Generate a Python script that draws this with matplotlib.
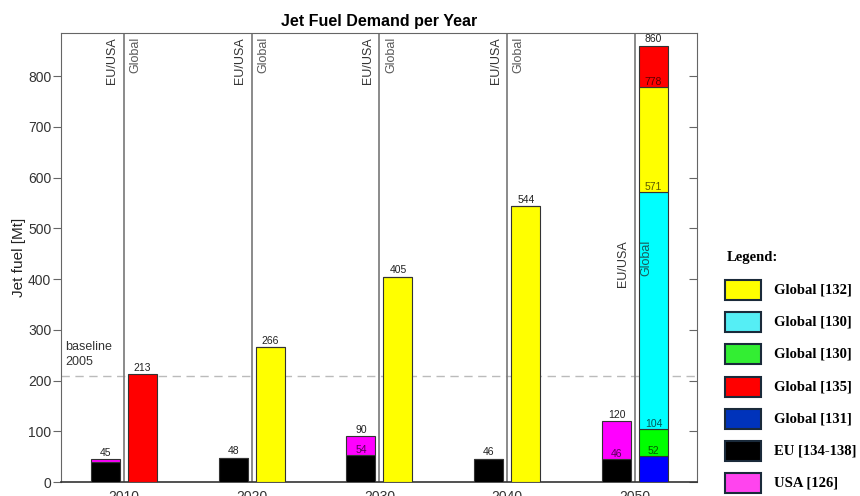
import matplotlib
matplotlib.use("Agg")
import matplotlib.pyplot as plt
from matplotlib.patches import Rectangle
import numpy as np

years = ["2010", "2020", "2030", "2040", "2050"]

# EU/USA bar: EU part (black) + USA part (magenta) on top
eu = [39, 48, 54, 46, 46]
usa = [6, 0, 36, 0, 74]
eu_label_shown = [False, False, True, False, True]

# Global bar, stacked bottom to top
glob_blue = [0, 0, 0, 0, 52]      # Global [131]
glob_green = [0, 0, 0, 0, 52]     # Global [130]
glob_cyan = [0, 0, 0, 0, 467]     # Global [130]
glob_yellow = [0, 266, 405, 544, 207]  # Global [132]
glob_red = [213, 0, 0, 0, 82]     # Global [135]

baseline_2005 = 208

legend_labels = ["Global [132]", "Global [130]", "Global [130]", "Global [135]",
                 "Global [131]", "EU [134-138]", "USA [126]"]
legend_colors = ["#ffff00", "#55eef5", "#33ee33", "#ff0000", "#0033bb", "#000000", "#ff44ee"]

plt.rcParams["font.family"] = ["Liberation Sans", "DejaVu Sans"]

fig = plt.figure(figsize=(8.6, 4.96), dpi=100)
ax = fig.add_axes([0.0709, 0.0282, 0.7395, 0.9052])

x = np.arange(len(years))
w = 0.227
off = 0.145
edge = dict(edgecolor="#333333", linewidth=0.8)
lbl = dict(textcoords="offset points", ha="center", va="bottom", fontsize=7.5, zorder=6)

# EU/USA bars
eu_arr = np.array(eu)
usa_arr = np.array(usa)
ax.bar(x - off, eu_arr, w, color="black", zorder=3, **edge)
ax.bar(x - off, usa_arr, w, bottom=eu_arr, color="#ff00ff", zorder=3, **edge)
for i in range(len(years)):
    top = eu[i] + usa[i]
    ax.annotate(str(top), (x[i] - off, top), xytext=(0, 1), color="#222222", **lbl)
    if eu_label_shown[i]:
        ax.annotate(str(eu[i]), (x[i] - off, eu[i]), xytext=(0, 0), color="black",
                    alpha=0.65, **lbl)

# Global bars
segs = [(glob_blue, "#0000ff"), (glob_green, "#00ff00"), (glob_cyan, "#00ffff"),
        (glob_yellow, "#ffff00"), (glob_red, "#ff0000")]
totals = np.sum([s[0] for s in segs], axis=0)
bottom = np.zeros(len(years))
for vals, col in segs:
    v = np.array(vals, dtype=float)
    ax.bar(x + off, v, w, bottom=bottom, color=col, zorder=3, **edge)
    bottom = bottom + v
    for i in range(len(years)):
        if v[i] > 0:
            is_top = bottom[i] == totals[i]
            ax.annotate(str(int(bottom[i])), (x[i] + off, bottom[i]),
                        xytext=(0, 1 if is_top else 0),
                        color="#222222" if is_top else "black",
                        alpha=1 if is_top else 0.65, **lbl)

# separators and group labels
for i in range(len(years)):
    ax.axvline(x[i], color="#777777", linewidth=1.2, zorder=2)
    if i < len(years) - 1:
        ya, yc = 1.0, "axes fraction"
    else:
        ya, yc = 485, "data"
    ax.annotate("EU/USA", (x[i], ya), xycoords=("data", yc), xytext=(-4, -3),
                textcoords="offset points", rotation=90, ha="right", va="top",
                fontsize=9, color="#333333", zorder=6)
    ax.annotate("Global", (x[i], ya), xycoords=("data", yc), xytext=(4, -3),
                textcoords="offset points", rotation=90, ha="left", va="top",
                fontsize=9, color="#222222", alpha=0.75, zorder=6)

# baseline 2005
ax.axhline(baseline_2005, color="#bbbbbb", linestyle=(0, (6, 4)), linewidth=1, zorder=1)
ax.annotate("baseline\n2005", (0, baseline_2005), xycoords=("axes fraction", "data"),
            xytext=(3, 6), textcoords="offset points", ha="left", va="bottom",
            fontsize=9, color="#333333", linespacing=1.3)

ax.set_xlim(-0.493, 4.485)
ax.set_ylim(0, 885)
ax.set_xticks(x)
ax.set_xticklabels(years)
ax.set_yticks(np.arange(0, 900, 100))
ax.tick_params(axis="y", direction="out", length=6, color="#666666", pad=1,
               labelsize=10, labelcolor="#333333", right=True)
ax.tick_params(axis="x", length=0, labelsize=10, labelcolor="#333333", pad=6)
for t in ax.yaxis.get_major_ticks():
    t.tick2line.set_marker(matplotlib.lines.TICKLEFT)
    t.tick2line.set_markersize(6)
for s in ax.spines.values():
    s.set_color("#666666")
ax.spines["bottom"].set_color("#333333")
ax.spines["bottom"].set_linewidth(1.2)

ax.set_ylabel("Jet fuel [Mt]", fontsize=11, color="#222222", labelpad=1)
ax.set_title("Jet Fuel Demand per Year", fontsize=11.5, fontweight="bold", pad=5)

# legend drawn on figure
serif = ["Liberation Serif", "DejaVu Serif"]
fig.text(727 / 860, 1 - 258 / 496, "Legend:", family=serif,
         fontweight="bold", fontsize=10.5, va="center", ha="left")
for k, (lab, col) in enumerate(zip(legend_labels, legend_colors)):
    yc = 290 + k * 32.2
    fig.patches.append(Rectangle((725 / 860, 1 - (yc + 10) / 496), 36 / 860, 20 / 496,
                                 transform=fig.transFigure, facecolor=col,
                                 edgecolor="#1a2a3a", linewidth=1.5))
    fig.text(774 / 860, 1 - yc / 496, lab, family=serif,
             fontweight="bold", fontsize=10.5, va="center", ha="left")

fig.savefig("out.png", dpi=100)
